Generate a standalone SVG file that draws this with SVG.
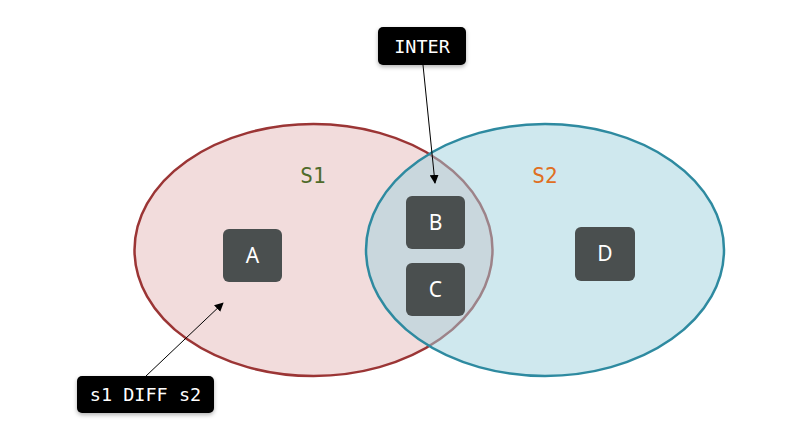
<svg xmlns="http://www.w3.org/2000/svg" width="794" height="426" viewBox="0 0 794 426">
<defs>
<style>
.node rect{fill:#4a4f4f}
.node text{fill:#ffffff;font-family:"Noto Sans","DejaVu Sans",sans-serif;font-size:21px;text-anchor:middle}
.lbl rect{fill:#000000;filter:url(#sh)}
.lbl text{fill:#ffffff;font-family:"DejaVu Sans Mono","Liberation Mono",monospace;font-size:18.5px;text-anchor:middle}
.setname{font-family:"DejaVu Sans Mono","Liberation Mono",monospace;font-size:21px;text-anchor:middle}
.conn{stroke:#000;stroke-width:1;fill:none;marker-end:url(#ah)}
</style>
<marker id="ah" viewBox="0 0 10 10" refX="9" refY="5" markerWidth="9" markerHeight="9" markerUnits="userSpaceOnUse" orient="auto">
<path d="M0,0 L10,5 L0,10 z" fill="#000"/>
</marker>
<filter id="sh" x="-20%" y="-30%" width="140%" height="170%">
<feDropShadow dx="0" dy="2" stdDeviation="2" flood-color="#000" flood-opacity="0.3"/>
</filter>
</defs>
<rect width="794" height="426" fill="#ffffff"/>
<g id="set-s1">
<ellipse cx="313.5" cy="250" rx="179" ry="126" fill="#f2dcdc" stroke="#9b3535" stroke-width="2.5"/>
<text class="setname" x="313" y="183" fill="#4f6b2b">S1</text>
</g>
<g id="set-s2">
<ellipse cx="545" cy="250" rx="179" ry="126" fill="#9fd1dd" fill-opacity="0.5" stroke="#2e8aa0" stroke-width="2.5"/>
<text class="setname" x="545" y="183" fill="#e06f22">S2</text>
</g>
<g id="node-a" class="node"><rect x="223" y="229" width="59" height="53" rx="6"/><text x="252.5" y="263">A</text></g>
<g id="node-b" class="node"><rect x="406" y="196" width="59" height="53" rx="6"/><text x="435.5" y="230">B</text></g>
<g id="node-c" class="node"><rect x="406" y="263" width="59" height="53" rx="6"/><text x="435.5" y="297">C</text></g>
<g id="node-d" class="node"><rect x="575" y="227" width="60" height="54" rx="6"/><text x="605" y="261">D</text></g>
<g id="connectors">
<line class="conn" x1="423" y1="65" x2="435" y2="183"/>
<line class="conn" x1="146" y1="376" x2="223" y2="303"/>
</g>
<g id="label-inter" class="lbl"><rect x="378" y="27" width="88" height="38" rx="5"/><text x="422" y="52.5">INTER</text></g>
<g id="label-diff" class="lbl"><rect x="77" y="376" width="137" height="37" rx="5"/><text x="145.5" y="401">s1 DIFF s2</text></g>
</svg>
